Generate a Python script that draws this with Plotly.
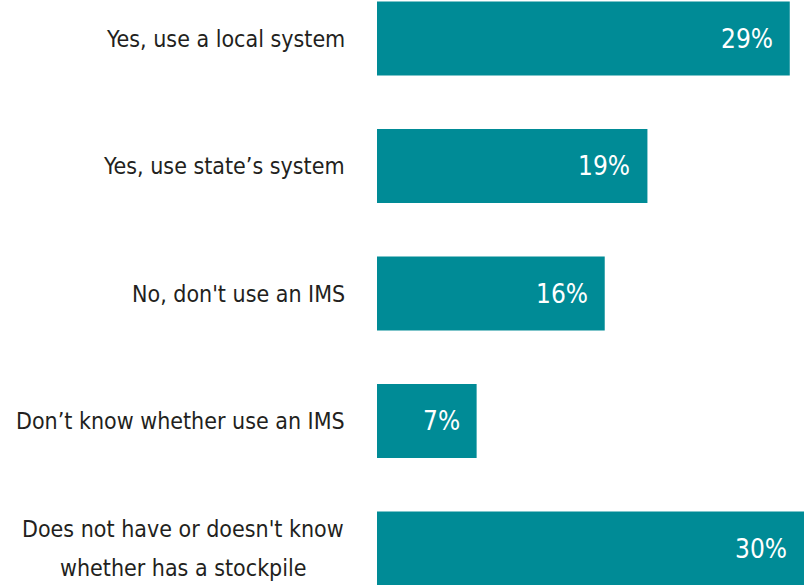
import plotly.graph_objects as go

categories = [
    "Yes, use a local system",
    "Yes, use state’s system",
    "No, don't use an IMS",
    "Don’t know whether use an IMS",
    "Does not have or doesn't know<br>whether has a stockpile",
]
values = [29, 19, 16, 7, 30]
value_labels = ["29%", "19%", "16%", "7%", "30%"]

TEAL = "#008B96"
FONT = "DejaVu Sans Condensed, sans-serif"
LINE_GAP = 39      # px between wrapped label lines
LABEL_RIGHT = -30  # right edge of the label column, px left of the bar start
WRAP_CENTRE = -194 # centre of wrapped labels, px left of the bar start

positions = list(range(len(categories)))

fig = go.Figure(
    go.Bar(
        x=values,
        y=positions,
        orientation="h",
        marker=dict(color=TEAL, line=dict(width=0)),
        width=0.58,
        hoverinfo="skip",
    )
)

# value labels inside the bar ends
for pos, val, lab in zip(positions, values, value_labels):
    fig.add_annotation(
        x=val, y=pos, text=lab, showarrow=False,
        xanchor="right", yanchor="middle", xshift=-15,
        font=dict(family=FONT, size=26, color="white"),
    )

# category labels to the left of the bars; wrapped labels are centred
for pos, cat in zip(positions, categories):
    lines = cat.split("<br>")
    n = len(lines)
    for i, line in enumerate(lines):
        fig.add_annotation(
            x=0, y=pos, text=line, showarrow=False,
            xanchor="right" if n == 1 else "center",
            yanchor="middle",
            xshift=LABEL_RIGHT if n == 1 else WRAP_CENTRE,
            yshift=(((n - 1) / 2) - i) * LINE_GAP,
            font=dict(family=FONT, size=23, color="#231F20"),
        )

fig.update_layout(
    width=804, height=585,
    margin=dict(l=377, r=0, t=0, b=0, autoexpand=False),
    paper_bgcolor="white", plot_bgcolor="white",
    showlegend=False,
    xaxis=dict(range=[0, 30], visible=False, fixedrange=True),
    yaxis=dict(range=[4.286, -0.302], visible=False, fixedrange=True),
)

fig.write_html("out.html")
